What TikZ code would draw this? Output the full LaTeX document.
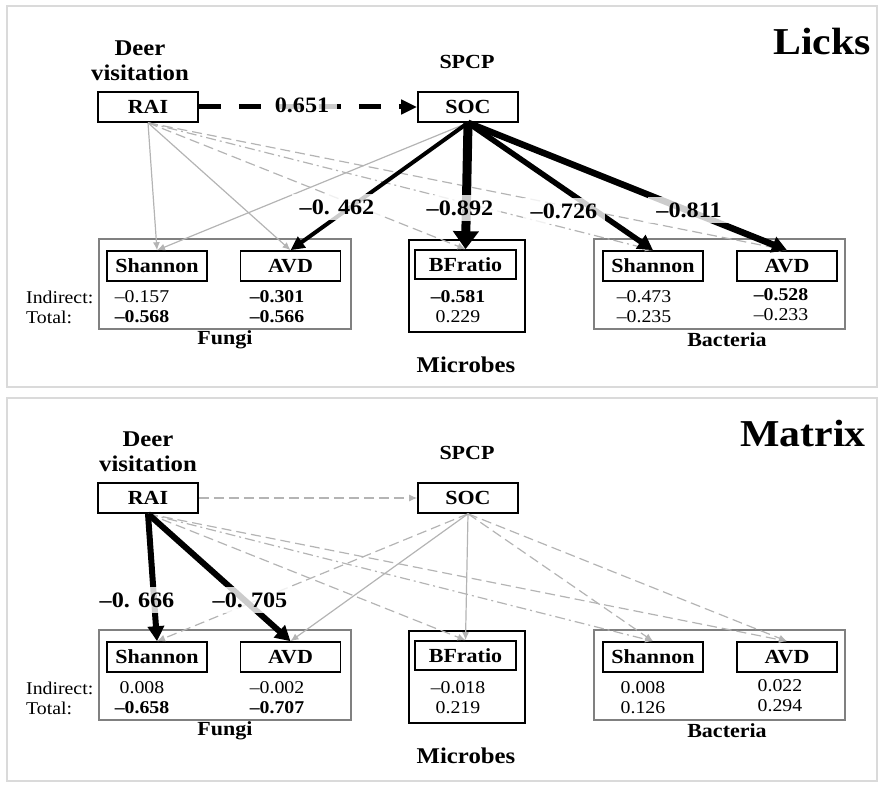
\documentclass[tikz,border=0pt]{standalone}
\usepackage{fontspec}
\setmainfont{Liberation Serif}[FakeStretch=1.1]
\usetikzlibrary{arrows.meta}
\definecolor{lg}{HTML}{B4B4B4}
\definecolor{bx}{HTML}{808080}
\definecolor{pb}{HTML}{DADADA}
\tikzset{
 box/.style={draw=black, line width=1.6pt, minimum width=100pt, minimum height=30pt, inner sep=0pt, font=\fontsize{20}{22}\selectfont\bfseries},
 grp/.style={draw=bx, line width=1.5pt, inner sep=0pt},
 ttl/.style={font=\fontsize{20}{25}\selectfont\bfseries, align=center, inner sep=0pt},
 dvl/.style={font=\fontsize{22.5}{25}\selectfont\bfseries, align=center, inner sep=0pt},
 big/.style={font=\fontsize{38}{40}\selectfont\bfseries, inner sep=0pt},
 val/.style={font=\fontsize{18}{20}\selectfont, inner sep=0pt},
 bval/.style={val, font=\fontsize{18}{20}\selectfont\bfseries},
 gs/.style={draw=lg, line width=1.2pt, -{Latex[length=8pt,width=7pt]}},
 gd/.style={gs, dash pattern=on 10pt off 5pt},
 gdd/.style={gs, dash pattern=on 10pt off 4pt on 2pt off 4pt},
 bk/.style={draw=black, -{Triangle[length=15pt,width=16pt]}},
 elab/.style={fill=white, fill opacity=0.8, text opacity=1, font=\fontsize{22}{24}\selectfont\bfseries, inner xsep=8pt, inner ysep=6pt},
 panel/.style={draw=pb, line width=2pt},
}
\begin{document}
\begin{tikzpicture}[x=1pt,y=-1pt]
\useasboundingbox (0,0) rectangle (885,789);
\draw[panel] (7,6) rectangle (877,387);
\draw[panel] (7,398) rectangle (877,781);

% ================= Licks =================
\node[dvl] (dv1) at (140,61) {Deer\\visitation};
\node[ttl] (sp1) at (467,62) {SPCP};
\node[big] (ti1) at (822,42) {Licks};
\node[box] (rai1) at (148,107) {RAI};
\node[box] (soc1) at (468,107) {SOC};
\node[grp, minimum width=252pt, minimum height=90pt] (fg1) at (225,284) {};
\node[grp, draw=black, minimum width=116pt, minimum height=92pt] (bg1) at (467,286) {};
\node[grp, minimum width=251pt, minimum height=90pt] (bc1) at (719.5,284) {};
\node[box] (fsh1) at (157,266) {Shannon};
\node[box] (fav1) at (290.5,266) {AVD};
\node[box, minimum width=101pt, minimum height=29pt] (bf1) at (465.5,264.5) {BFratio};
\node[box] (bsh1) at (653,266) {Shannon};
\node[box] (bav1) at (787,266) {AVD};
\node[val, anchor=west] (in1) at (26,297) {Indirect:};
\node[val, anchor=west] (to1) at (26,317) {Total:};
\node[val] (v1a) at (142,297) {–0.157};
\node[bval] (v1b) at (142,317) {–0.568};
\node[bval] (v1c) at (277,297) {–0.301};
\node[bval] (v1d) at (277,317) {–0.566};
\node[bval] (v1e) at (458,297) {–0.581};
\node[val] (v1f) at (458,317) {0.229};
\node[val] (v1g) at (644,297) {–0.473};
\node[val] (v1h) at (644,317) {–0.235};
\node[bval] (v1i) at (781,295) {–0.528};
\node[val] (v1j) at (781,315) {–0.233};
\node[ttl] (fu1) at (225,340) {Fungi};
\node[dvl] (mi1) at (466,365) {Microbes};
\node[ttl] (ba1) at (727,340) {Bacteria};

\draw[gs] (rai1.south) -- (fsh1.north);
\draw[gs] (rai1.south) -- (fav1.north);
\draw[gd] (rai1.south) -- (bf1.north);
\draw[gdd] (rai1.south) -- (bsh1.north);
\draw[gd] (rai1.south) -- (bav1.north);
\draw[gs] (soc1.south) -- (fsh1.north);
\draw[bk, line width=4pt, -{Triangle[length=14pt,width=13pt]}] (soc1.south) -- (fav1.north);
\draw[bk, line width=9pt, -{Triangle[length=18pt,width=25pt]}] (soc1.south) -- (bf1.north);
\draw[bk, line width=5.5pt] (soc1.south) -- (bsh1.north);
\draw[bk, line width=6.5pt] (soc1.south) -- (bav1.north);
\draw[bk, line width=5pt, dash pattern=on 22pt off 18pt, -{Triangle[length=16pt,width=14pt]}] (rai1.east) -- (soc1.west);
\node[elab] (l1a) at (302,105) {0.651};
\node[elab] (l1b) at (337,207) {–0. 462};
\node[elab] (l1c) at (460,208) {–0.892};
\node[elab] (l1d) at (564,211) {–0.726};
\node[elab] (l1e) at (689,210) {–0.811};

% ================= Matrix =================
\begin{scope}[shift={(0,391)}]
\node[dvl] (dv2) at (148,61) {Deer\\visitation};
\node[ttl] (sp2) at (467,62) {SPCP};
\node[big] (ti2) at (803,42) {Matrix};
\node[box] (rai2) at (148,107) {RAI};
\node[box] (soc2) at (468,107) {SOC};
\node[grp, minimum width=252pt, minimum height=90pt] (fg2) at (225,284) {};
\node[grp, draw=black, minimum width=116pt, minimum height=92pt] (bg2) at (467,286) {};
\node[grp, minimum width=251pt, minimum height=90pt] (bc2) at (719.5,284) {};
\node[box] (fsh2) at (157,266) {Shannon};
\node[box] (fav2) at (290.5,266) {AVD};
\node[box, minimum width=101pt, minimum height=29pt] (bf2) at (465.5,264.5) {BFratio};
\node[box] (bsh2) at (653,266) {Shannon};
\node[box] (bav2) at (787,266) {AVD};
\node[val, anchor=west] (in2) at (26,297) {Indirect:};
\node[val, anchor=west] (to2) at (26,317) {Total:};
\node[val] (v2a) at (142,297) {0.008};
\node[bval] (v2b) at (142,317) {–0.658};
\node[val] (v2c) at (277,297) {–0.002};
\node[bval] (v2d) at (277,317) {–0.707};
\node[val] (v2e) at (458,297) {–0.018};
\node[val] (v2f) at (458,317) {0.219};
\node[val] (v2g) at (643,297) {0.008};
\node[val] (v2h) at (643,317) {0.126};
\node[val] (v2i) at (780,295) {0.022};
\node[val] (v2j) at (780,315) {0.294};
\node[ttl] (fu2) at (225,340) {Fungi};
\node[dvl] (mi2) at (466,365) {Microbes};
\node[ttl] (ba2) at (727,340) {Bacteria};

\draw[gd] (rai2.east) -- (soc2.west);
\draw[gd] (rai2.south) -- (bf2.north);
\draw[gdd] (rai2.south) -- (bsh2.north);
\draw[gd] (rai2.south) -- (bav2.north);
\draw[gd] (soc2.south) -- (fsh2.north);
\draw[gs] (soc2.south) -- (fav2.north);
\draw[gs] (soc2.south) -- (bf2.north);
\draw[gd] (soc2.south) -- (bsh2.north);
\draw[gd] (soc2.south) -- (bav2.north);
\draw[bk, line width=6pt] (rai2.south) -- (fsh2.north);
\draw[bk, line width=6pt] (rai2.south) -- (fav2.north);
\node[elab] (l2a) at (137,209) {–0. 666};
\node[elab] (l2b) at (250,209) {–0. 705};
\end{scope}
\end{tikzpicture}
\end{document}
